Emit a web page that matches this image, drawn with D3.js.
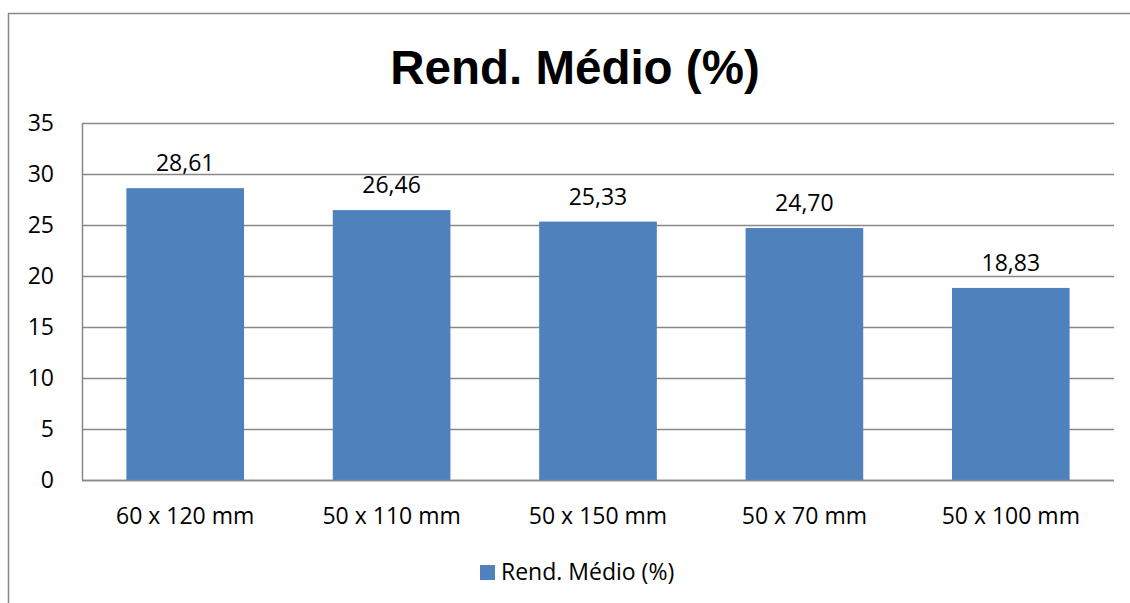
<!DOCTYPE html>
<html>
<head>
<meta charset="utf-8">
<script src="https://cdn.jsdelivr.net/npm/d3@7"></script>
<style>
  body { margin: 0; background: #fff; }
  svg { display: block; }
</style>
</head>
<body>
<svg id="chart" width="1130" height="603"></svg>
<script>
'use strict';

var categories = ['60 x 120 mm', '50 x 110 mm', '50 x 150 mm', '50 x 70 mm', '50 x 100 mm'],
    values = [28.61, 26.46, 25.33, 24.70, 18.83],
    yTicks = [0, 5, 10, 15, 20, 25, 30, 35],
    seriesName = 'Rend. Médio (%)';

var svg = d3.select('#chart'),
    labelFont = '"Open Sans", "Noto Sans", sans-serif',
    labelSize = '23px',
    barColor = '#4f81bd',
    gridColor = '#888888';

var plot = { left: 82, top: 123, right: 1114, bottom: 480 };

// outer chart frame (runs off the right and bottom of the picture)
svg.append('rect')
    .attr('x', 8.5).attr('y', 13.5)
    .attr('width', 1200).attr('height', 700)
    .attr('fill', 'none')
    .attr('stroke', gridColor)
    .attr('stroke-width', 1.5);

svg.append('text')
    .attr('x', 575).attr('y', 84)
    .attr('text-anchor', 'middle')
    .style('font-family', '"Liberation Sans", Arial, sans-serif')
    .style('font-weight', 'bold')
    .style('font-size', '47.5px')
    .text(seriesName);

var x = d3.scaleBand()
    .domain(categories)
    .range([plot.left, plot.right])
    .paddingInner(0.43)
    .paddingOuter(0.215);

var y = d3.scaleLinear()
    .domain([0, 35])
    .range([plot.bottom, plot.top]);

// gridlines
svg.append('g')
    .selectAll('line')
    .data(yTicks)
    .enter().append('line')
        .attr('x1', plot.left).attr('x2', plot.right)
        .attr('y1', function(d) { return Math.round(y(d)) + 0.5; })
        .attr('y2', function(d) { return Math.round(y(d)) + 0.5; })
        .attr('stroke', gridColor)
        .attr('stroke-width', 1.5);

svg.append('line')
    .attr('x1', plot.left + 0.5).attr('x2', plot.left + 0.5)
    .attr('y1', plot.top).attr('y2', plot.bottom)
    .attr('stroke', gridColor)
    .attr('stroke-width', 1.5);

// y tick labels
svg.append('g')
    .selectAll('text')
    .data(yTicks)
    .enter().append('text')
        .attr('x', 54)
        .attr('y', function(d) { return y(d) + 8; })
        .attr('text-anchor', 'end')
        .style('font-family', labelFont)
        .style('font-size', labelSize)
        .text(function(d) { return d; });

// bars
svg.append('g')
    .selectAll('rect')
    .data(values)
    .enter().append('rect')
        .attr('x', function(d, i) { return x(categories[i]); })
        .attr('y', function(d) { return y(d); })
        .attr('width', x.bandwidth())
        .attr('height', function(d) { return y(0) - y(d); })
        .attr('fill', barColor);

svg.append('line')
    .attr('x1', plot.left).attr('x2', plot.right)
    .attr('y1', plot.bottom + 0.5).attr('y2', plot.bottom + 0.5)
    .attr('stroke', gridColor)
    .attr('stroke-width', 1.5);

// data labels
svg.append('g')
    .selectAll('text')
    .data(values)
    .enter().append('text')
        .attr('x', function(d, i) { return x(categories[i]) + x.bandwidth() / 2; })
        .attr('y', function(d) { return y(d) - 17; })
        .attr('text-anchor', 'middle')
        .style('font-family', labelFont)
        .style('font-size', labelSize)
        .text(function(d) { return d.toFixed(2).replace('.', ','); });

// category labels
svg.append('g')
    .selectAll('text')
    .data(categories)
    .enter().append('text')
        .attr('x', function(d) { return x(d) + x.bandwidth() / 2; })
        .attr('y', 524)
        .attr('text-anchor', 'middle')
        .style('font-family', labelFont)
        .style('font-size', labelSize)
        .text(function(d) { return d; });

// legend
var legend = svg.append('g').attr('transform', 'translate(480,565)');
legend.append('rect')
    .attr('width', 15).attr('height', 15)
    .attr('fill', barColor);
legend.append('text')
    .attr('x', 21).attr('y', 15)
    .style('font-family', labelFont)
    .style('font-size', labelSize)
    .text(seriesName);
</script>
</body>
</html>
